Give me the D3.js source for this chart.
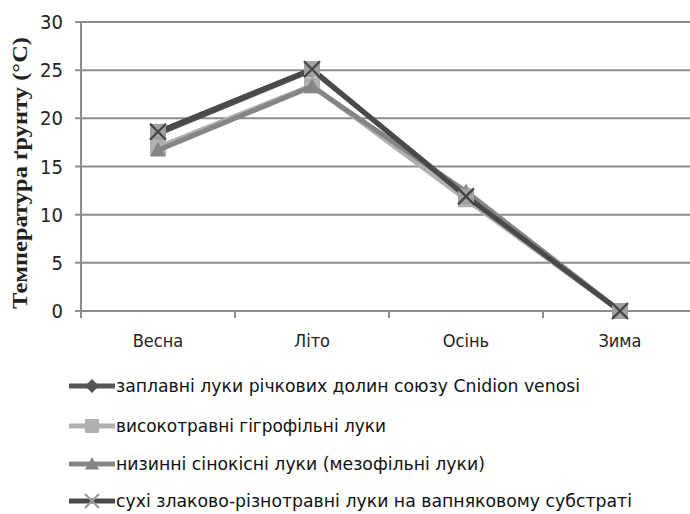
<!DOCTYPE html>
<html><head><meta charset="utf-8">
<script src="https://cdn.jsdelivr.net/npm/d3@7"></script>
<style>body{margin:0;background:#fff;}svg{display:block;}</style>
</head><body>
<svg id="c" width="690" height="514"></svg>
<script>
const categories = ["Весна", "Літо", "Осінь", "Зима"];
const seriesNames = [
  "заплавні луки річкових долин союзу Cnidion venosi",
  "високотравні гігрофільні луки",
  "низинні сінокісні луки (мезофільні луки)",
  "сухі злаково-різнотравні луки на вапняковому субстраті"
];
const s1 = [18.4, 25.0, 12.0, 0];
const s2 = [17.0, 23.4, 11.6, 0];
const s3 = [16.7, 23.3, 12.4, 0];
const s4 = [18.6, 25.1, 11.9, 0];
const yTicks = [0, 5, 10, 15, 20, 25, 30];
const yTitle = "Температура ґрунту (°C)";

const seriesData = [s1, s2, s3, s4];
const lineColors = ["#555555", "#b0b0b0", "#858585", "#4a4a4a"];
const markers = ["diamond", "square", "triangle", "x"];
const markerColors = ["#555555", "#b0b0b0", "#858585", "#9a9a9a"];
const legendWidths = [464, 270, 369, 516];

const svg = d3.select("#c");
const m = {l: 81, r: 697, t: 22, b: 311};
const x = d3.scaleBand().domain(categories).range([m.l, m.r]);
const y = d3.scaleLinear().domain([0, 30]).range([m.b, m.t]);
const narrow = "DejaVu Sans Condensed, Liberation Sans Narrow, Open Sans, sans-serif";

svg.append("g").selectAll("line").data(yTicks).join("line")
  .attr("x1", m.l - 6).attr("x2", m.r)
  .attr("y1", d => y(d)).attr("y2", d => y(d))
  .attr("stroke", "#8c8c8c").attr("stroke-width", 2);
svg.append("line").attr("x1", m.l).attr("x2", m.l).attr("y1", m.t).attr("y2", m.b + 6)
  .attr("stroke", "#8c8c8c").attr("stroke-width", 2);
svg.append("g").selectAll("line").data(categories).join("line")
  .attr("x1", d => x(d)).attr("x2", d => x(d))
  .attr("y1", m.b).attr("y2", m.b + 7)
  .attr("stroke", "#8c8c8c").attr("stroke-width", 2);

svg.append("g").selectAll("text").data(yTicks).join("text")
  .attr("x", 63).attr("y", d => y(d)).attr("dy", "0.35em")
  .attr("text-anchor", "end")
  .attr("font-family", narrow)
  .attr("font-size", 20).attr("fill", "#222")
  .text(d => d);
svg.append("g").selectAll("text").data(categories).join("text")
  .attr("x", d => x(d) + x.bandwidth() / 2).attr("y", 347)
  .attr("text-anchor", "middle")
  .attr("font-family", narrow)
  .attr("font-size", 18).attr("fill", "#222")
  .text(d => d);
svg.append("text")
  .attr("transform", "translate(27,173) rotate(-90)")
  .attr("text-anchor", "middle")
  .attr("font-family", "Liberation Serif, Times New Roman, serif")
  .attr("font-weight", "bold").attr("font-size", 20).attr("fill", "#222")
  .attr("textLength", 272).attr("lengthAdjust", "spacingAndGlyphs")
  .text(yTitle);

const cx = d => x(d) + x.bandwidth() / 2;
const line = d3.line().x(d => cx(d.c)).y(d => y(d.v));

function drawMarker(g, type, px, py, color, sz) {
  if (type === "diamond") {
    g.append("path").attr("d", `M${px},${py - sz}L${px + sz},${py}L${px},${py + sz}L${px - sz},${py}Z`).attr("fill", color);
  } else if (type === "square") {
    g.append("rect").attr("x", px - sz).attr("y", py - sz).attr("width", 2 * sz).attr("height", 2 * sz).attr("fill", color);
  } else if (type === "triangle") {
    g.append("path").attr("d", `M${px},${py - sz}L${px + sz},${py + sz * 0.8}L${px - sz},${py + sz * 0.8}Z`).attr("fill", color);
  } else {
    g.append("path").attr("d", `M${px - sz},${py - sz}L${px + sz},${py + sz}M${px + sz},${py - sz}L${px - sz},${py + sz}`)
      .attr("stroke", color).attr("stroke-width", 2.2);
  }
}

seriesData.forEach((vals, i) => {
  const pts = vals.map((v, j) => ({c: categories[j], v}));
  const g = svg.append("g");
  g.append("path").datum(pts).attr("d", line).attr("fill", "none")
    .attr("stroke", lineColors[i]).attr("stroke-width", 5).attr("stroke-linejoin", "round");
  pts.forEach(p => {
    if (markers[i] === "x") {
      drawMarker(g, "square", cx(p.c), y(p.v), "#a0a0a0", 8);
      drawMarker(g, "x", cx(p.c), y(p.v), "#444", 8);
    } else {
      drawMarker(g, markers[i], cx(p.c), y(p.v), markerColors[i], 8);
    }
  });
});

const ly = [386, 426, 464, 501];
seriesNames.forEach((name, i) => {
  const g = svg.append("g");
  g.append("line").attr("x1", 69).attr("x2", 115).attr("y1", ly[i]).attr("y2", ly[i])
    .attr("stroke", lineColors[i]).attr("stroke-width", 5);
  drawMarker(g, markers[i], 92, ly[i], markerColors[i], 7);
  g.append("text").attr("x", 116).attr("y", ly[i]).attr("dy", "0.35em")
    .attr("font-family", narrow)
    .attr("font-size", 18).attr("fill", "#111")
    .attr("textLength", legendWidths[i]).attr("lengthAdjust", "spacingAndGlyphs")
    .text(name);
});
</script>
</body></html>
